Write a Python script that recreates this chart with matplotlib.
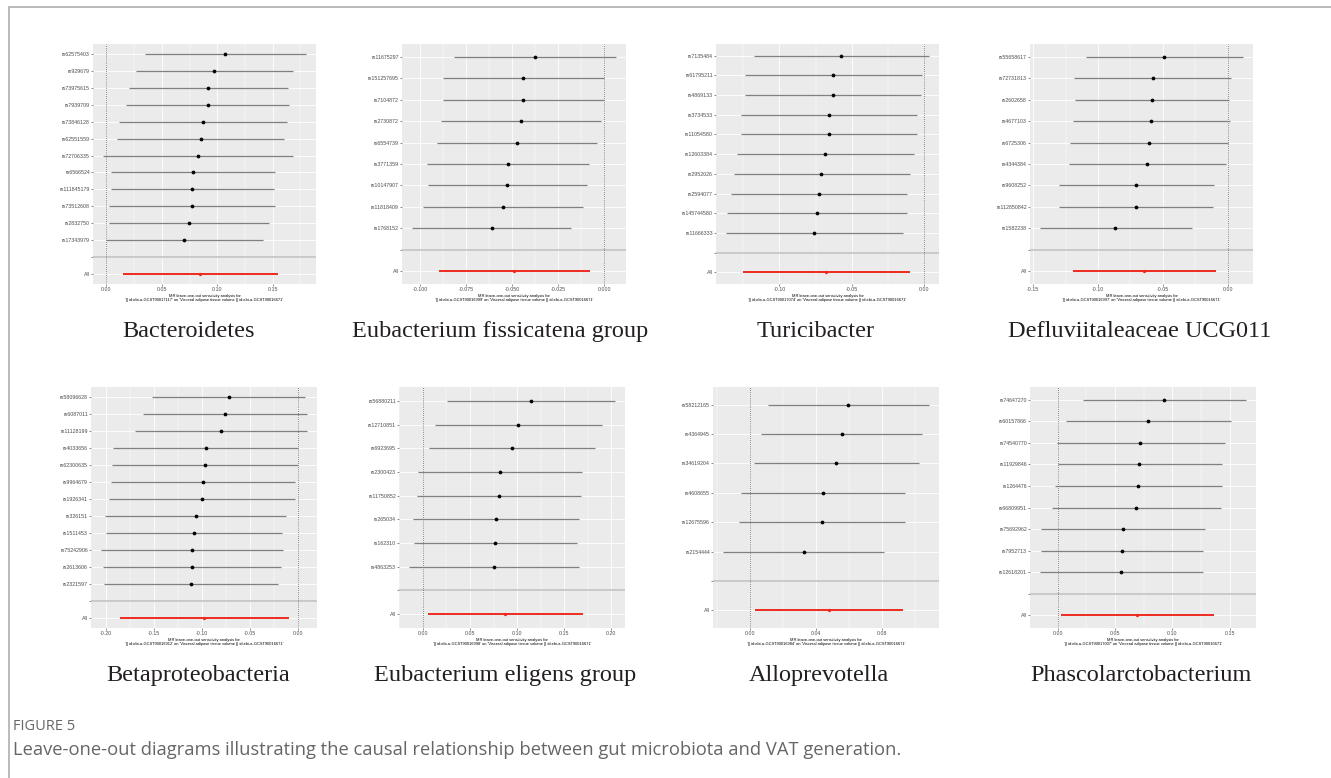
import matplotlib
matplotlib.use("Agg")
import matplotlib.pyplot as plt
from matplotlib.ticker import MultipleLocator, AutoMinorLocator, FormatStrFormatter, FixedLocator

W, H = 1331, 778

titles = ["Bacteroidetes", "Eubacterium fissicatena group", "Turicibacter",
          "Defluviitaleaceae UCG011", "Betaproteobacteria", "Eubacterium eligens group",
          "Alloprevotella", "Phascolarctobacterium"]
exposure_ids = ["GCST90017117", "GCST90016999", "GCST90017074", "GCST90016997",
                "GCST90016912", "GCST90016998", "GCST90016984", "GCST90017007"]
outcome_id = "GCST90016671"

# each panel: SNPs top to bottom, estimate, lower and upper CI, then the "All" row
bact_snp = ["rs62575403", "rs929679", "rs73975615", "rs7939709", "rs73846128", "rs62551559",
            "rs72706335", "rs6566524", "rs111845179", "rs73512608", "rs2832750", "rs17343979"]
bact_b = [0.1073, 0.0974, 0.0920, 0.0917, 0.0872, 0.0851, 0.0827, 0.0785, 0.0775, 0.0772, 0.0742, 0.0703]
bact_lo = [0.0348, 0.0271, 0.0204, 0.0180, 0.0111, 0.0093, -0.0030, 0.0042, 0.0042, 0.0027, 0.0021, 0.0000]
bact_hi = [0.1800, 0.1680, 0.1638, 0.1647, 0.1629, 0.1605, 0.1683, 0.1524, 0.1509, 0.1518, 0.1464, 0.1413]
bact_all = [0.0848, 0.0150, 0.1548]

fiss_snp = ["rs11675297", "rs151257695", "rs7104872", "rs2730872", "rs6554739", "rs3771359",
            "rs10147907", "rs11818409", "rs1768152"]
fiss_b = [-0.0377, -0.0440, -0.0442, -0.0451, -0.0475, -0.0524, -0.0527, -0.0551, -0.0611]
fiss_lo = [-0.0815, -0.0875, -0.0877, -0.0888, -0.0908, -0.0964, -0.0957, -0.0986, -0.1044]
fiss_hi = [0.0062, -0.0004, -0.0004, -0.0018, -0.0040, -0.0083, -0.0096, -0.0116, -0.0179]
fiss_all = [-0.0489, -0.0899, -0.0080]

turi_snp = ["rs7135484", "rs61795211", "rs4869133", "rs3734533", "rs11054580", "rs12603384",
            "rs2952026", "rs2594077", "rs145744580", "rs11666333"]
turi_b = [-0.0572, -0.0628, -0.0632, -0.0658, -0.0660, -0.0685, -0.0710, -0.0726, -0.0743, -0.0759]
turi_lo = [-0.1179, -0.1235, -0.1241, -0.1262, -0.1267, -0.1292, -0.1315, -0.1333, -0.1359, -0.1368]
turi_hi = [0.0032, -0.0018, -0.0023, -0.0051, -0.0053, -0.0074, -0.0101, -0.0120, -0.0120, -0.0149]
turi_all = [-0.0678, -0.1253, -0.0101]

defl_snp = ["rs55658617", "rs72731813", "rs2602658", "rs4677103", "rs6725306", "rs4344384",
            "rs9608252", "rs112850842", "rs1582238"]
defl_b = [-0.0489, -0.0579, -0.0584, -0.0587, -0.0607, -0.0620, -0.0705, -0.0710, -0.0865]
defl_lo = [-0.1094, -0.1184, -0.1178, -0.1191, -0.1214, -0.1227, -0.1299, -0.1299, -0.1446]
defl_hi = [0.0118, 0.0026, 0.0008, 0.0015, 0.0003, -0.0010, -0.0108, -0.0113, -0.0278]
defl_all = [-0.0641, -0.1191, -0.0087]

beta_snp = ["rs58096628", "rs6087011", "rs11128199", "rs4033656", "rs62300635", "rs9964679",
            "rs1926341", "rs326151", "rs1511453", "rs75242906", "rs2613606", "rs2321597"]
beta_b = [-0.0723, -0.0761, -0.0806, -0.0962, -0.0965, -0.0990, -0.1000, -0.1066, -0.1083, -0.1100, -0.1104, -0.1118]
beta_lo = [-0.1515, -0.1609, -0.1692, -0.1927, -0.1931, -0.1948, -0.1962, -0.2003, -0.1993, -0.2045, -0.2024, -0.2021]
beta_hi = [0.0066, 0.0087, 0.0087, 0.0000, 0.0000, -0.0035, -0.0038, -0.0125, -0.0170, -0.0156, -0.0180, -0.0211]
beta_all = [-0.0976, -0.1851, -0.0097]

elig_snp = ["rs56880211", "rs12710851", "rs6923695", "rs2300423", "rs11750852", "rs265034",
            "rs162310", "rs4863253"]
elig_b = [0.1143, 0.1012, 0.0945, 0.0814, 0.0807, 0.0775, 0.0765, 0.0754]
elig_lo = [0.0251, 0.0127, 0.0060, -0.0057, -0.0067, -0.0106, -0.0096, -0.0145]
elig_hi = [0.2036, 0.1901, 0.1827, 0.1685, 0.1682, 0.1660, 0.1632, 0.1660]
elig_all = [0.0874, 0.0050, 0.1703]

allo_snp = ["rs58212165", "rs4364945", "rs34619204", "rs4608655", "rs12675596", "rs2154444"]
allo_b = [0.0594, 0.0554, 0.0521, 0.0440, 0.0436, 0.0327]
allo_lo = [0.0105, 0.0065, 0.0022, -0.0059, -0.0069, -0.0164]
allo_hi = [0.1083, 0.1042, 0.1024, 0.0941, 0.0941, 0.0814]
allo_all = [0.0479, 0.0028, 0.0929]

phas_snp = ["rs74647270", "rs60157866", "rs74540770", "rs11929846", "rs1264476", "rs66809951",
            "rs75692962", "rs7952713", "rs12618201"]
phas_b = [0.0930, 0.0791, 0.0721, 0.0712, 0.0701, 0.0683, 0.0570, 0.0558, 0.0555]
phas_lo = [0.0224, 0.0076, -0.0006, 0.0000, -0.0026, -0.0052, -0.0142, -0.0145, -0.0151]
phas_hi = [0.1640, 0.1509, 0.1456, 0.1436, 0.1430, 0.1422, 0.1288, 0.1265, 0.1265]
phas_all = [0.0692, 0.0026, 0.1360]

panels = [
    (bact_snp, bact_b, bact_lo, bact_hi, bact_all),
    (fiss_snp, fiss_b, fiss_lo, fiss_hi, fiss_all),
    (turi_snp, turi_b, turi_lo, turi_hi, turi_all),
    (defl_snp, defl_b, defl_lo, defl_hi, defl_all),
    (beta_snp, beta_b, beta_lo, beta_hi, beta_all),
    (elig_snp, elig_b, elig_lo, elig_hi, elig_all),
    (allo_snp, allo_b, allo_lo, allo_hi, allo_all),
    (phas_snp, phas_b, phas_lo, phas_hi, phas_all),
]

# layout in pixels: left, top, right, bottom of each plot area
boxes = [(93, 44, 316, 284), (402, 44, 626, 284), (716, 44, 939, 284), (1030, 44, 1253, 284),
         (91, 387, 317, 628), (399, 387, 625, 628), (713, 387, 939, 628), (1030, 387, 1256, 628)]
steps = [0.05, 0.025, 0.05, 0.05, 0.05, 0.05, 0.04, 0.05]
fmts = ["%.2f", "%.3f", "%.2f", "%.2f", "%.2f", "%.2f", "%.2f", "%.2f"]
title_x = [189, 500, 816, 1140, 198, 505, 819, 1141]
title_base = [337, 337, 337, 337, 681, 681, 681, 681]

plt.rcParams['font.family'] = ['Liberation Sans', 'DejaVu Sans']

fig = plt.figure(figsize=(W / 100, H / 100), dpi=100)
fig.patch.set_facecolor('white')

for i, (snp, b, lo, hi, allv) in enumerate(panels):
    l, t, r, btm = boxes[i]
    ax = fig.add_axes([l / W, 1 - btm / H, (r - l) / W, (btm - t) / H])
    ax.set_facecolor('#EBEBEB')
    n = len(snp)
    ypos = [n + 2 - k for k in range(n)]

    ax.axhline(2, color='#BEBEBE', lw=1.1, zorder=2)
    ax.axvline(0, color='#555555', lw=0.6, ls=(0, (1, 1.5)), zorder=2)
    ax.hlines(ypos, lo, hi, color='#808080', lw=0.9, zorder=3)
    ax.plot(b, ypos, 'o', color='black', ms=2.7, mew=0, zorder=4)
    ax.hlines([1], [allv[1]], [allv[2]], color='#EE2A1F', lw=1.4, zorder=3)
    ax.plot([allv[0]], [1], 'o', color='#EE2A1F', ms=2.4, mew=0, zorder=4)

    ax.margins(x=0.05)
    ax.set_ylim(0.4, n + 2.6)
    ax.yaxis.set_major_locator(FixedLocator(list(range(1, n + 3))))
    ax.set_yticklabels(['All', ''] + snp[::-1])
    ax.xaxis.set_major_locator(MultipleLocator(steps[i]))
    ax.xaxis.set_minor_locator(AutoMinorLocator(2))
    ax.xaxis.set_major_formatter(FormatStrFormatter(fmts[i]))

    ax.grid(True, which='major', color='white', lw=0.6)
    ax.grid(True, which='minor', axis='x', color='white', lw=0.3)
    ax.set_axisbelow(True)
    for s in ax.spines.values():
        s.set_visible(False)
    ax.tick_params(which='major', length=1.2, width=0.4, color='#333333',
                   labelsize=3.8, labelcolor='#4D4D4D', pad=1)
    ax.tick_params(which='minor', length=0)
    ax.set_xlabel("MR leave-one-out sensitivity analysis for\n"
                  "'|| id:ebi-a-" + exposure_ids[i] + "' on 'Visceral adipose tissue volume || id:ebi-a-"
                  + outcome_id + "'", fontsize=2.9, labelpad=1.5, linespacing=1.1)

    fig.text(title_x[i] / W, 1 - title_base[i] / H, titles[i], ha='center', va='baseline',
             fontsize=17.5, family='Liberation Serif', color='#231F20')

# page frame
fig.add_artist(plt.Line2D([9 / W, 1], [1 - 7 / H, 1 - 7 / H], color='#BBBBBB', lw=1.4))
fig.add_artist(plt.Line2D([9 / W, 9 / W], [0, 1 - 7 / H], color='#BBBBBB', lw=1.4))

fig.text(13 / W, 1 - 730 / H, "FIGURE 5", fontsize=10.5, color='#666666',
         family='Open Sans', va='baseline')
fig.text(13 / W, 1 - 755 / H,
         "Leave-one-out diagrams illustrating the causal relationship between gut microbiota and VAT generation.",
         fontsize=13.2, color='#666666', family='Open Sans', va='baseline')

fig.savefig('out.png', dpi=100)
